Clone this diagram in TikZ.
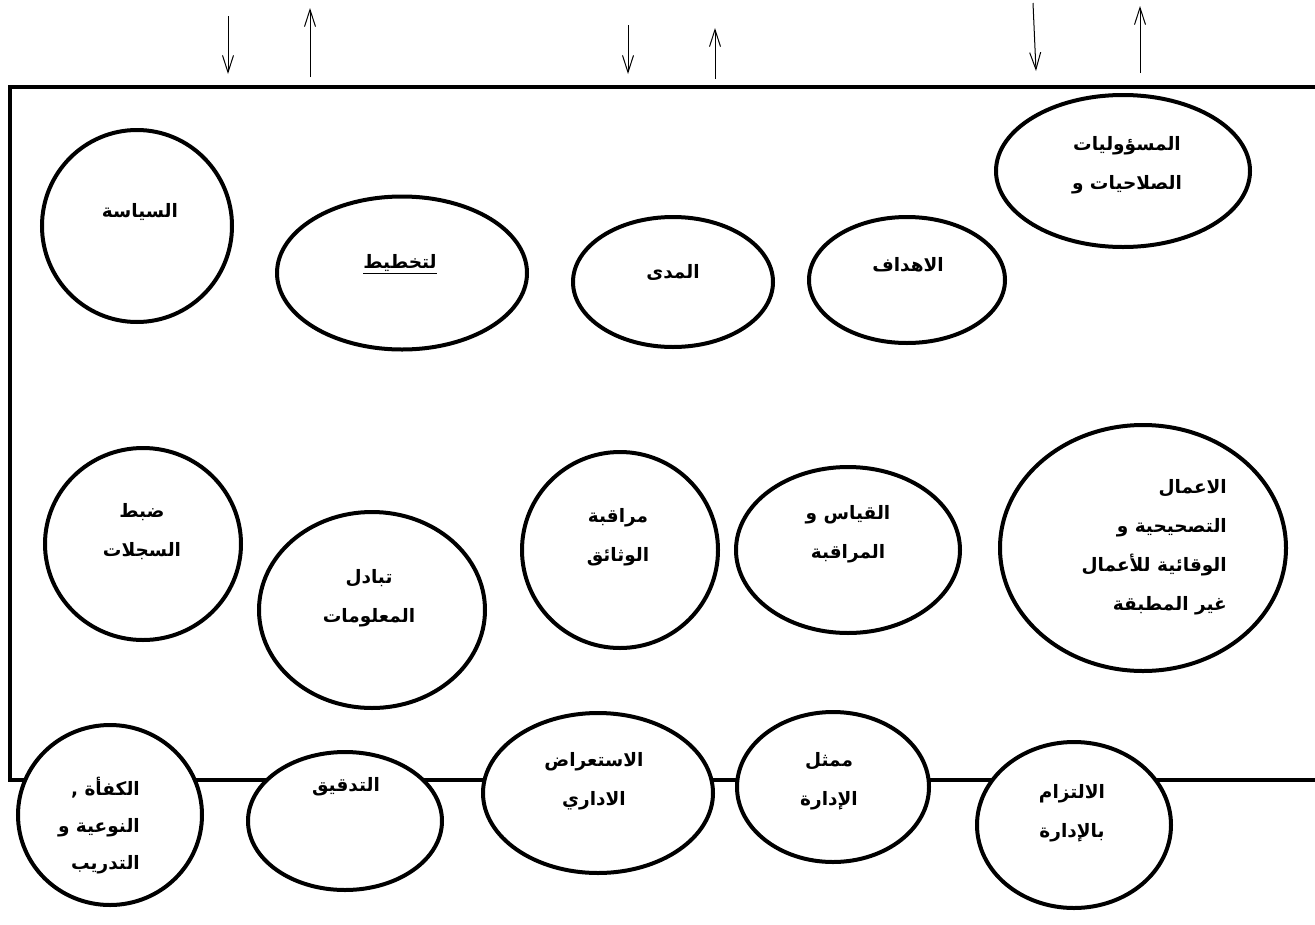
\documentclass[tikz,border=0pt]{standalone}
\usepackage{fontspec}
\TeXXeTstate=1
\newfontfamily\arabicfont[Script=Arabic]{DejaVu Sans}
\usetikzlibrary{shapes,arrows.meta,positioning}

\newcommand{\ar}[1]{\beginR #1\endR}

\tikzset{
  blob/.style={ellipse, draw, line width=4pt, fill=white, inner sep=0pt},
  lbl/.style={font=\arabicfont\bfseries\fontsize{18.5}{39}\selectfont, align=center, inner sep=0pt},
  frame/.style={line width=4.5pt},
  flow/.style={line width=1pt, -{Straight Barb[length=17pt,width=11pt]}}
}

\begin{document}
\begin{tikzpicture}[x=1pt,y=-1pt]
    \useasboundingbox (0,0) rectangle (1315,924);

    % arrows above the frame
    \coordinate (d1s) at (228,16);  \coordinate (d1e) at (228,74);
    \coordinate (u1s) at (310,77);  \coordinate (u1e) at (310,8);
    \coordinate (d2s) at (628,25);  \coordinate (d2e) at (628,74);
    \coordinate (u2s) at (715,79);  \coordinate (u2e) at (715,28);
    \coordinate (d3s) at (1033,3);  \coordinate (d3e) at (1036,71);
    \coordinate (u3s) at (1140,73); \coordinate (u3e) at (1140,6);
    \draw[flow] (d1s) -- (d1e);
    \draw[flow] (u1s) -- (u1e);
    \draw[flow] (d2s) -- (d2e);
    \draw[flow] (u2s) -- (u2e);
    \draw[flow] (d3s) -- (d3e);
    \draw[flow] (u3s) -- (u3e);

    % frame
    \coordinate (tr) at (1320,87);
    \coordinate (tl) at (10,87);
    \coordinate (bl) at (10,780);
    \coordinate (br) at (1320,780);
    \draw[frame] (tr) -- (tl) -- (bl) -- (br);

    % top row
    \node[blob, minimum width=254, minimum height=152] (resp) at (1123,171) {};
    \node[lbl] (respT) at (1127,165) {\ar{المسؤوليات}\\\ar{الصلاحيات و}};
    \node[blob, minimum width=190, minimum height=192] (policy) at (137,226) {};
    \node[lbl] (policyT) at (140,212) {\ar{السياسة}};
    \node[blob, minimum width=250, minimum height=153] (plan) at (402,273) {};
    \node[lbl] (planT) at (400,264) {\underline{\ar{لتخطيط}}};
    \node[blob, minimum width=200, minimum height=130] (scope) at (673,282) {};
    \node[lbl] (scopeT) at (673,272) {\ar{المدى}};
    \node[blob, minimum width=196, minimum height=126] (goals) at (907,280) {};
    \node[lbl] (goalsT) at (908,265) {\ar{الاهداف}};

    % middle row
    \node[blob, minimum width=196, minimum height=192] (records) at (143,544) {};
    \node[lbl] (recordsT) at (142,532) {\ar{ضبط}\\\ar{السجلات}};
    \node[blob, minimum width=226, minimum height=196] (info) at (372,610) {};
    \node[lbl] (infoT) at (369,598) {\ar{تبادل}\\\ar{المعلومات}};
    \node[blob, minimum width=196, minimum height=196] (docs) at (620,550) {};
    \node[lbl] (docsT) at (618,537) {\ar{مراقبة}\\\ar{الوثائق}};
    \node[blob, minimum width=224, minimum height=166] (measure) at (848,550) {};
    \node[lbl] (measureT) at (848,534) {\ar{القياس و}\\\ar{المراقبة}};
    \node[blob, minimum width=286, minimum height=246] (actions) at (1143,548) {};
    \node[lbl, align=right, anchor=east] (actionsT) at (1227,547)
      {\ar{الاعمال}\\\ar{التصحيحية و}\\\ar{الوقائية للأعمال}\\\ar{غير المطبقة}};

    % bottom row, on the frame line
    \node[blob, minimum width=184, minimum height=180] (skills) at (110,815) {};
    \node[lbl, align=right, anchor=east, font=\arabicfont\bfseries\fontsize{18.5}{37}\selectfont] (skillsT) at (140,826)
      {\ar{الكفأة ,}\\\ar{النوعية و}\\\ar{التدريب}};
    \node[blob, minimum width=194, minimum height=138] (audit) at (345,821) {};
    \node[lbl] (auditT) at (346,787) {\ar{التدقيق}};
    \node[blob, minimum width=230, minimum height=160] (review) at (598,793) {};
    \node[lbl] (reviewT) at (594,781) {\ar{الاستعراض}\\\ar{الاداري}};
    \node[blob, minimum width=192, minimum height=150] (rep) at (833,787) {};
    \node[lbl] (repT) at (829,781) {\ar{ممثل}\\\ar{الإدارة}};
    \node[blob, minimum width=194, minimum height=166] (commit) at (1074,825) {};
    \node[lbl] (commitT) at (1072,813) {\ar{الالتزام}\\\ar{بالإدارة}};
\end{tikzpicture}
\end{document}
